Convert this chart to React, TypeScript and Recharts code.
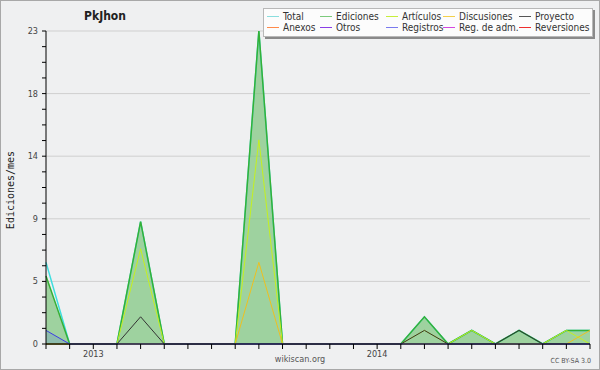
import { ComposedChart, Area, Line, XAxis, YAxis, CartesianGrid } from "recharts";

const months = [
  "2012-11", "2012-12", "2013-01", "2013-02", "2013-03", "2013-04", "2013-05", "2013-06",
  "2013-07", "2013-08", "2013-09", "2013-10", "2013-11", "2013-12", "2014-01", "2014-02",
  "2014-03", "2014-04", "2014-05", "2014-06", "2014-07", "2014-08", "2014-09", "2014-10",
];
const total = [6, 0, 0, 0, 9, 0, 0, 0, 0, 23, 0, 0, 0, 0, 0, 0, 2, 0, 1, 0, 1, 0, 1, 1];
const ediciones = [5, 0, 0, 0, 9, 0, 0, 0, 0, 23, 0, 0, 0, 0, 0, 0, 2, 0, 1, 0, 1, 0, 1, 1];
const articulos = [0, 0, 0, 0, 7, 0, 0, 0, 0, 15, 0, 0, 0, 0, 0, 0, 1, 0, 1, 0, 0, 0, 1, 0];
const discusiones = [0, 0, 0, 0, 0, 0, 0, 0, 0, 6, 0, 0, 0, 0, 0, 0, 0, 0, 0, 0, 0, 0, 0, 1];
const proyecto = [0, 0, 0, 0, 2, 0, 0, 0, 0, 0, 0, 0, 0, 0, 0, 0, 1, 0, 0, 0, 1, 0, 0, 0];
const registros = [1, 0, 0, 0, 0, 0, 0, 0, 0, 0, 0, 0, 0, 0, 0, 0, 0, 0, 0, 0, 0, 0, 0, 0];

const yMax = 23;
const yLabelTicks = [0, 4.6, 9.2, 13.8, 18.4, 23];

const legendItems = [
  { name: "Total", color: "#8adede" },
  { name: "Ediciones", color: "#7cca7c" },
  { name: "Artículos", color: "#c6ee3c" },
  { name: "Discusiones", color: "#f2d04a" },
  { name: "Proyecto", color: "#555555" },
  { name: "Anexos", color: "#ff8a4a" },
  { name: "Otros", color: "#8a3ee6" },
  { name: "Registros", color: "#7a7aee" },
  { name: "Reg. de adm.", color: "#d448e0" },
  { name: "Reversiones", color: "#ee2e2e" },
];

const data = months.map((m, i) => ({
  month: m,
  total: total[i],
  ediciones: ediciones[i],
  articulos: articulos[i],
  discusiones: discusiones[i],
  proyecto: proyecto[i],
  registros: registros[i],
}));

// minor ticks: 3 between each labelled tick
const yTicks: number[] = [];
for (let k = 0; k < yLabelTicks.length - 1; k++) {
  const a = yLabelTicks[k];
  const b = yLabelTicks[k + 1];
  for (let j = 0; j < 4; j++) yTicks.push(a + ((b - a) * j) / 4);
}
yTicks.push(yMax);

const font = "'DejaVu Sans Condensed', 'DejaVu Sans', sans-serif";
const bg = "#eff0f1";

function YTick(props: any) {
  const { x, y, payload } = props;
  const v = payload.value;
  const major = yLabelTicks.some((t) => Math.abs(t - v) < 1e-6);
  if (!major) return null;
  return (
    <text x={x - 2} y={y} dy={3} textAnchor="end" fontSize={9} fill="#444" fontFamily={font}>
      {Math.round(v)}
    </text>
  );
}

function Legend10() {
  const cols = [0, 53, 119, 176, 252];
  return (
    <div
      style={{
        position: "absolute",
        left: 263,
        top: 8,
        width: 330,
        height: 29,
        background: "#fcfcfc",
        border: "1px solid #b8b8b8",
        boxShadow: "2px 2px 0 #8a8a8a",
        boxSizing: "border-box",
        fontFamily: font,
        fontSize: 10,
        color: "#333",
      }}
    >
      {legendItems.map((it, i) => (
        <div
          key={it.name}
          style={{
            position: "absolute",
            left: 3 + cols[i % 5],
            top: i < 5 ? 2 : 13,
            display: "flex",
            alignItems: "center",
            height: 11,
            whiteSpace: "nowrap",
          }}
        >
          <div style={{ width: 12, height: 1, background: it.color, marginRight: 4 }} />
          <span>{it.name}</span>
        </div>
      ))}
    </div>
  );
}

export default function App() {
  return (
    <div style={{ position: "absolute", left: 0, top: 0, width: 600, height: 370, background: bg }}>
      <ComposedChart
        width={600}
        height={370}
        data={data}
        margin={{ top: 31, right: 10, left: 0, bottom: 0 }}
      >
        <CartesianGrid vertical={false} horizontalValues={yLabelTicks.slice(1)} stroke="#cfcfcf" />
        <XAxis
          dataKey="month"
          scale="point"
          interval={0}
          height={26}
          tickSize={5}
          stroke="#000"
          tick={{ fontSize: 9, fill: "#444", fontFamily: font }}
          tickFormatter={(m: string) => (m.endsWith("-01") ? m.slice(0, 4) : "")}
        />
        <YAxis
          width={46}
          domain={[0, yMax]}
          ticks={yTicks}
          interval={0}
          tickSize={4}
          stroke="#000"
          tick={<YTick />}
        />
        <Area
          dataKey="ediciones"
          type="linear"
          stroke="none"
          fill="#7cc47c"
          fillOpacity={0.7}
          isAnimationActive={false}
        />
        <Area
          dataKey="registros"
          type="linear"
          stroke="none"
          fill="#6a8fd0"
          fillOpacity={0.3}
          isAnimationActive={false}
        />
        <Line dataKey="total" type="linear" stroke="#3ddede" strokeWidth={1.5} dot={false} isAnimationActive={false} />
        <Line dataKey="ediciones" type="linear" stroke="#36b036" strokeWidth={1.5} dot={false} isAnimationActive={false} />
        <Line dataKey="articulos" type="linear" stroke="#c4f020" strokeWidth={1} dot={false} isAnimationActive={false} />
        <Line dataKey="discusiones" type="linear" stroke="#eec020" strokeWidth={1} dot={false} isAnimationActive={false} />
        <Line dataKey="proyecto" type="linear" stroke="#333" strokeWidth={1} dot={false} isAnimationActive={false} />
        <Line dataKey="registros" type="linear" stroke="#3c3ce6" strokeWidth={1} dot={false} isAnimationActive={false} />
      </ComposedChart>
      <div
        style={{
          position: "absolute",
          left: 60,
          top: 9,
          width: 90,
          textAlign: "center",
          fontFamily: font,
          fontWeight: "bold",
          fontSize: 12,
          color: "#222",
        }}
      >
        PkJhon
      </div>
      <div
        style={{
          position: "absolute",
          left: 10,
          top: 190,
          transform: "translate(-50%, -50%) rotate(-90deg)",
          fontFamily: "'DejaVu Sans Mono', monospace",
          fontSize: 10,
          color: "#222",
          whiteSpace: "nowrap",
        }}
      >
        Ediciones/mes
      </div>
      <div
        style={{
          position: "absolute",
          left: 250,
          top: 354,
          width: 100,
          textAlign: "center",
          fontFamily: font,
          fontSize: 9,
          color: "#555",
        }}
      >
        wikiscan.org
      </div>
      <div
        style={{
          position: "absolute",
          right: 9,
          top: 357,
          fontFamily: font,
          fontSize: 7,
          color: "#555",
        }}
      >
        CC BY-SA 3.0
      </div>
      <Legend10 />
      <div
        style={{
          position: "absolute",
          left: 0,
          top: 0,
          width: 600,
          height: 370,
          border: "1px solid #a8a8a8",
          boxSizing: "border-box",
          pointerEvents: "none",
        }}
      />
    </div>
  );
}
